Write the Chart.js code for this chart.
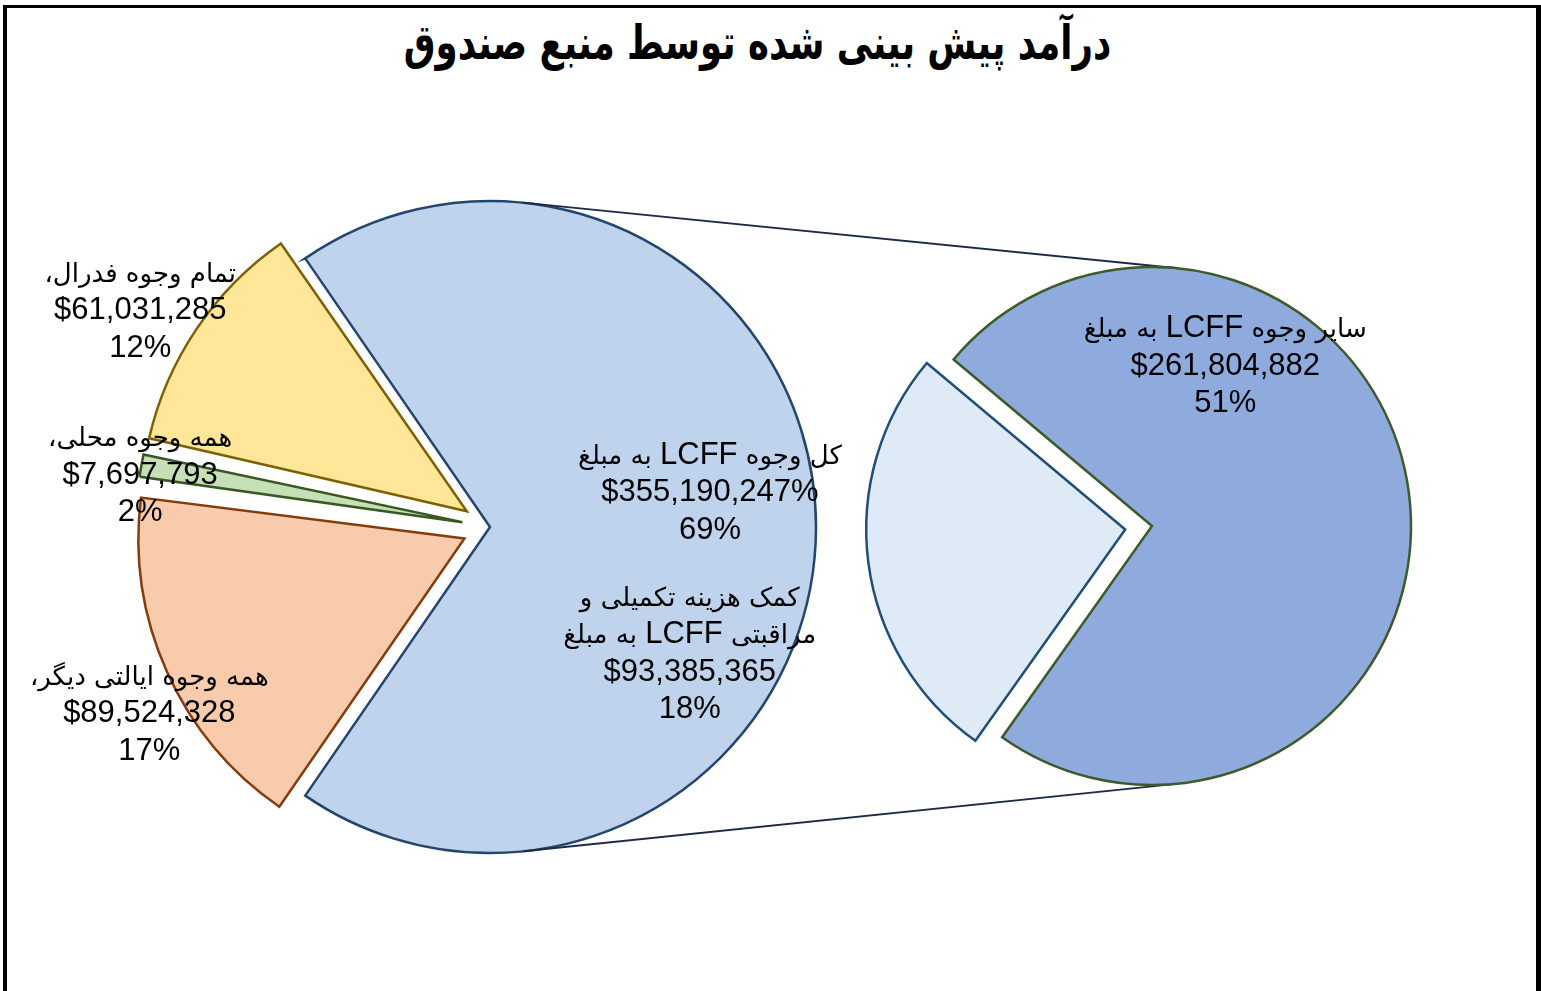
<!DOCTYPE html>
<html lang="fa">
<head>
<meta charset="utf-8">
<title>درآمد پیش بینی شده توسط منبع صندوق</title>
<script src="https://cdn.jsdelivr.net/npm/chart.js@4.4.1/dist/chart.umd.min.js"></script>
<style>
  html, body { margin: 0; padding: 0; background: #fff; overflow: hidden; }
  #frame {
    position: absolute; left: 3px; top: 5px; width: 1538px; height: 1100px;
    border-left: 4px solid #000; border-top: 3px solid #000; border-right: 5px solid #000;
    box-sizing: border-box;
  }
  #title {
    position: absolute; left: 0; width: 1515px; top: 14px; text-align: center;
    font: bold 48px 'DejaVu Sans', sans-serif; direction: rtl; color: #000;
    transform: scaleX(0.74); transform-origin: 50% 50%;
  }
  canvas { position: absolute; left: 0; top: 0; }
</style>
</head>
<body>
<div id="frame"></div>
<div id="title">درآمد پیش بینی شده توسط منبع صندوق</div>
<canvas id="leftPie" width="1541" height="991"></canvas>
<canvas id="rightPie" width="1541" height="991"></canvas>
<script>
// main pie: total LCFF + the other fund sources
const leftNames = ['کل وجوه LCFF به مبلغ', 'همه وجوه ایالتی دیگر،', 'همه وجوه محلی،', 'تمام وجوه فدرال،'];
const leftValues = [355190247, 89524328, 7697793, 61031285];
const leftPercents = [69, 17, 2, 12];
const leftValueSuffix = ['%', '', '', '']; // the source really prints "$355,190,247%"
const leftColors = ['#bfd4ec', '#f8cbad', '#c5e0b4', '#ffe699'];
const leftBorders = ['#24466e', '#843c0c', '#385723', '#7f6000'];

// secondary pie: split of the LCFF funds
const rightNames = ['سایر وجوه LCFF به مبلغ', 'کمک هزینه تکمیلی و\nمراقبتی LCFF به مبلغ'];
const rightValues = [261804882, 93385365];
const rightPercents = [51, 18];
const rightColors = ['#8faadc', '#deebf7'];
const rightBorders = ['#3d5a2a', '#1f4e79'];

const leftTotal = leftValues.reduce((a, b) => a + b, 0);

// where each label sits: angle in deg (clockwise from 3 o'clock), distance as share of pie radius
// the 18% label of the small pie is drawn inside the big LCFF slice, as in the source
const labelSpots = [
  { pie: 'left', index: 0, angle: -9.5, dist: 0.684 },
  { pie: 'left', index: 1, angle: 151.6, dist: 1.188 },
  { pie: 'left', index: 2, angle: 188.8, dist: 1.086 },
  { pie: 'left', index: 3, angle: 212, dist: 1.265 },
  { pie: 'right', index: 0, angle: -65.7, dist: 0.687 },
  { pie: 'right', index: 1, angle: 31.8, dist: 0.721, anchor: 'left' }
];

const latinFont = "31px 'Liberation Sans', Arial, sans-serif";
const arabicFont = "26px 'DejaVu Sans', sans-serif";
const lineH = 37.5;
const isArabic = /[\u0600-\u06FF]/;

function fmtMoney(v) {
  return '$' + v.toLocaleString('en-US');
}

function labelLines(spot) {
  const left = spot.pie === 'left';
  const name = (left ? leftNames : rightNames)[spot.index];
  const value = (left ? leftValues : rightValues)[spot.index];
  const suffix = left ? leftValueSuffix[spot.index] : '';
  const pct = (left ? leftPercents : rightPercents)[spot.index] + '%';
  return name.split('\n').concat([fmtMoney(value) + suffix, pct]);
}

// draws one line centred at cx; persian runs get their own font, laid out right to left
function drawMixed(ctx, txt, cx, y) {
  if (!isArabic.test(txt)) {
    ctx.font = latinFont;
    ctx.direction = 'ltr';
    ctx.textAlign = 'center';
    ctx.fillText(txt, cx, y);
    return;
  }
  const runs = txt.split(/([A-Za-z0-9$%,.]+)/).filter(s => s.length);
  const widths = runs.map(r => {
    ctx.font = isArabic.test(r) ? arabicFont : latinFont;
    return ctx.measureText(r).width;
  });
  const total = widths.reduce((a, b) => a + b, 0);
  let x = cx + total / 2;
  runs.forEach((r, i) => {
    const ar = isArabic.test(r);
    ctx.font = ar ? arabicFont : latinFont;
    ctx.direction = ar ? 'rtl' : 'ltr';
    ctx.textAlign = 'right';
    ctx.fillText(r, x, y);
    x -= widths[i];
  });
}

// chart.js grows exploded slices a bit, keep them at the pie radius
const keepRadius = {
  id: 'keepRadius',
  afterDatasetsUpdate(chart) {
    chart.getDatasetMeta(0).data.forEach(arc => {
      const off = (arc.options.offset || 0) / 4;
      if (!off) return;
      const fix = 1 - Math.sin(Math.min(Math.PI, arc.circumference));
      arc.outerRadius -= off * fix;
    });
  }
};

const commonOpts = {
  responsive: false,
  animation: false,
  events: [],
  plugins: { legend: { display: false }, tooltip: { enabled: false }, title: { display: false } }
};

const leftChart = new Chart(document.getElementById('leftPie'), {
  type: 'pie',
  data: {
    labels: leftNames,
    datasets: [{
      data: leftValues,
      backgroundColor: leftColors,
      borderColor: leftBorders,
      borderWidth: 2.5,
      borderJoinStyle: 'miter',
      offset: [0, 112, 112, 112],
      clip: false
    }]
  },
  options: {
    ...commonOpts,
    radius: 326,
    // center the LCFF slice on the right side
    rotation: 90 - leftValues[0] / leftTotal * 180,
    layout: { padding: { left: 0, right: 561, top: 63, bottom: 0 } }
  },
  plugins: [keepRadius]
});

// connector lines + all data labels, drawn on the top canvas
const overlayPlugin = {
  id: 'overlay',
  beforeDatasetsDraw(chart) {
    const ctx = chart.ctx;
    const a = leftChart.getDatasetMeta(0).data[0];
    const b = chart.getDatasetMeta(0).data[0];
    const dx = b.x - a.x, dy = b.y - a.y;
    const d = Math.hypot(dx, dy);
    const base = Math.atan2(dy, dx);
    const phi = Math.acos((a.outerRadius - b.outerRadius) / d);
    ctx.save();
    ctx.strokeStyle = '#1c2a48';
    ctx.lineWidth = 2;
    [base - phi, base + phi].forEach(t => {
      ctx.beginPath();
      ctx.moveTo(a.x + a.outerRadius * Math.cos(t), a.y + a.outerRadius * Math.sin(t));
      ctx.lineTo(b.x + b.outerRadius * Math.cos(t), b.y + b.outerRadius * Math.sin(t));
      ctx.stroke();
    });
    ctx.restore();
  },
  afterDatasetsDraw(chart) {
    const ctx = chart.ctx;
    ctx.save();
    ctx.fillStyle = '#000';
    ctx.textBaseline = 'alphabetic';
    labelSpots.forEach(spot => {
      const host = (spot.anchor || spot.pie) === 'left' ? leftChart : chart;
      const arcs = host.getDatasetMeta(0).data;
      const arc = arcs[spot.anchor ? 0 : spot.index];
      const r = arcs[0].outerRadius; // full pie radius
      const t = spot.angle * Math.PI / 180;
      const cx = arc.x + Math.cos(t) * r * spot.dist;
      const cy = arc.y + Math.sin(t) * r * spot.dist;
      const lines = labelLines(spot);
      lines.forEach((txt, i) => {
        drawMixed(ctx, txt, cx, cy + 11 + (i - (lines.length - 1) / 2) * lineH);
      });
    });
    ctx.restore();
  }
};

const rightChart = new Chart(document.getElementById('rightPie'), {
  type: 'pie',
  data: {
    labels: rightNames,
    datasets: [{
      data: rightValues,
      backgroundColor: rightColors,
      borderColor: rightBorders,
      borderWidth: 2.5,
      borderJoinStyle: 'miter',
      offset: [0, 108],
      clip: false
    }]
  },
  options: {
    ...commonOpts,
    radius: 259,
    rotation: -50,
    layout: { padding: { left: 763, right: 0, top: 61, bottom: 0 } }
  },
  plugins: [keepRadius, overlayPlugin]
});
</script>
</body>
</html>
